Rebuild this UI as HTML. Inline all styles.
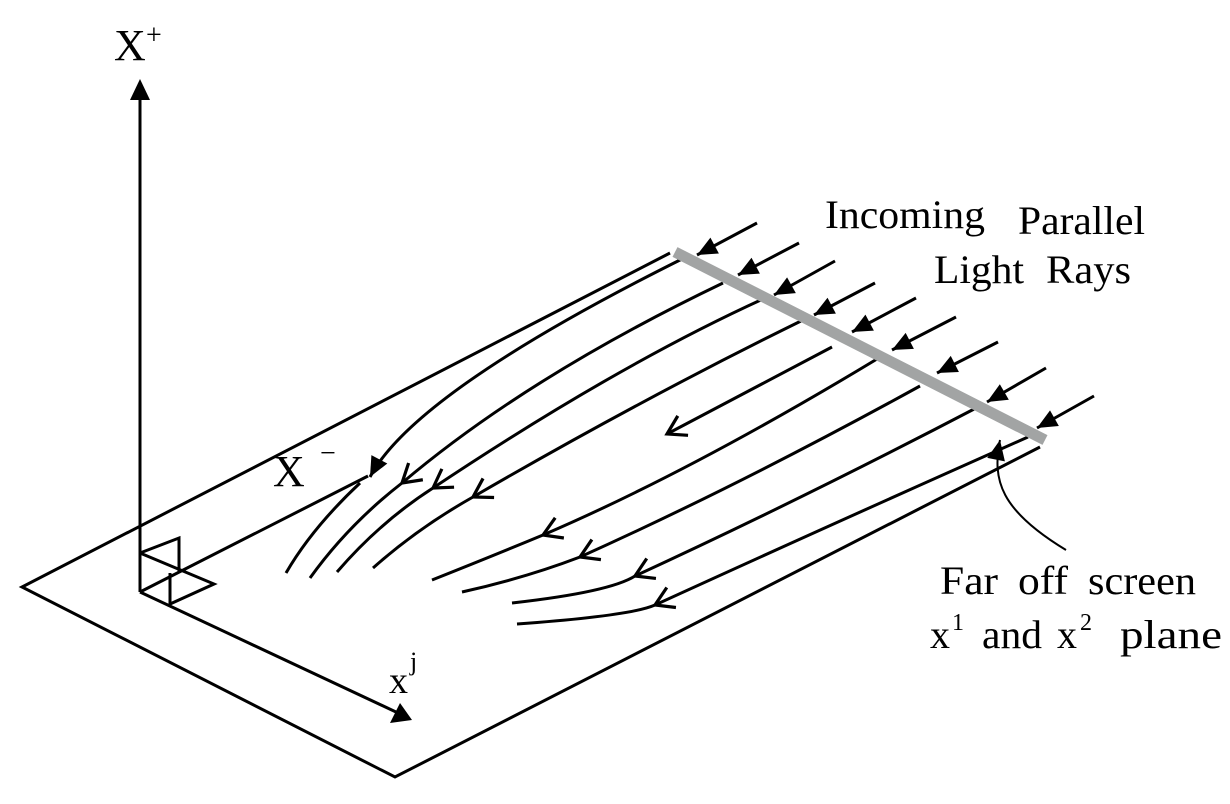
<!DOCTYPE html>
<html><head><meta charset="utf-8"><style>html,body{margin:0;padding:0;background:#fff}svg{display:block}</style></head>
<body>
<svg width="1230" height="804" viewBox="0 0 1230 804" xmlns="http://www.w3.org/2000/svg">
<defs>
<marker id="open" markerUnits="userSpaceOnUse" markerWidth="40" markerHeight="40" viewBox="-25 -20 30 40" refX="0" refY="0" orient="auto">
<path d="M-18,-11 L0,0 L-18,11" fill="none" stroke="#000" stroke-width="3.2"/>
</marker>
<marker id="fill" markerUnits="userSpaceOnUse" markerWidth="40" markerHeight="40" viewBox="-25 -20 30 40" refX="0" refY="0" orient="auto">
<path d="M-20,-9 L0,0 L-20,9 z" fill="#000"/>
</marker>
</defs>
<g fill="none" stroke="#000" stroke-width="3" stroke-linecap="butt">
<path d="M670,253 L22,587 L395,777 L1040,447"/>
<line x1="140" y1="592" x2="140" y2="98"/>
<line x1="140" y1="592" x2="396" y2="712"/>
<line x1="140" y1="592" x2="368" y2="476"/>
<path d="M140,553 L179,538 L179,573 M140,553 L214,584 L170,604 L170,573"/>
<path d="M684,258 Q415,392 370,477" marker-end="url(#fill)"/>
<path d="M723,283 Q527,377 402,483" marker-end="url(#open)"/>
<path d="M763,299 Q616,366 433,488" marker-end="url(#open)"/>
<path d="M803,320 Q640,400 473,497" marker-end="url(#open)"/>
<path d="M877,359 Q690,472 543,535" marker-end="url(#open)"/>
<path d="M920,386 Q740,485 580,557" marker-end="url(#open)"/>
<path d="M978,407 Q800,500 635,576" marker-end="url(#open)"/>
<path d="M1028,437 Q830,525 655,605" marker-end="url(#open)"/>
<path d="M360,483 Q312,528 286,573"/>
<path d="M402,483 Q348,525 310,578"/>
<path d="M433,488 Q380,522 337,572"/>
<path d="M473,497 Q418,528 373,568"/>
<path d="M543,535 Q490,557 432,580"/>
<path d="M580,557 Q525,578 462,592"/>
<path d="M635,576 Q610,592 512,603"/>
<path d="M655,605 Q630,616 517,624"/>
<path d="M832,347 L667,434" marker-end="url(#open)"/>
<path d="M1066,550 C1000,510 992,480 1000,440" stroke-width="2" marker-end="url(#fill)"/>
</g>
<line x1="675" y1="252" x2="1045" y2="440" stroke="#a2a4a4" stroke-width="11"/>
<g stroke="#000" stroke-width="3">
<line x1="757" y1="223" x2="697" y2="255" marker-end="url(#fill)"/>
<line x1="799" y1="243" x2="738" y2="275" marker-end="url(#fill)"/>
<line x1="835" y1="261" x2="774" y2="295" marker-end="url(#fill)"/>
<line x1="875" y1="283" x2="814" y2="315" marker-end="url(#fill)"/>
<line x1="916" y1="298" x2="852" y2="332" marker-end="url(#fill)"/>
<line x1="956" y1="317" x2="892" y2="350" marker-end="url(#fill)"/>
<line x1="998" y1="342" x2="937" y2="373" marker-end="url(#fill)"/>
<line x1="1046" y1="368" x2="987" y2="402" marker-end="url(#fill)"/>
<line x1="1094" y1="396" x2="1037" y2="428" marker-end="url(#fill)"/>
</g>
<polygon points="140,79 130,100 150,100" fill="#000"/>
<polygon points="412,720 390,723 400,703" fill="#000"/>
<g font-family="Liberation Serif, serif" fill="#000" font-size="40">
<text x="114" y="60" font-size="44">X</text>
<text x="146" y="44" font-size="28">+</text>
<text x="273" y="486" font-size="44">X</text>
<text x="320" y="462" font-size="28">−</text>
<text x="389" y="693" font-size="38">x</text>
<text x="410" y="670" font-size="26">j</text>
<text x="825" y="228" textLength="160" lengthAdjust="spacingAndGlyphs">Incoming</text>
<text x="1018" y="234" textLength="127" lengthAdjust="spacingAndGlyphs">Parallel</text>
<text x="934" y="283" textLength="90" lengthAdjust="spacingAndGlyphs">Light</text>
<text x="1046" y="283" textLength="85" lengthAdjust="spacingAndGlyphs">Rays</text>
<text x="940" y="594" textLength="58" lengthAdjust="spacingAndGlyphs">Far</text>
<text x="1018" y="594" textLength="50" lengthAdjust="spacingAndGlyphs">off</text>
<text x="1088" y="594" textLength="108" lengthAdjust="spacingAndGlyphs">screen</text>
<text x="930" y="648">x</text>
<text x="952" y="630" font-size="24">1</text>
<text x="982" y="648" textLength="60" lengthAdjust="spacingAndGlyphs">and</text>
<text x="1057" y="648">x</text>
<text x="1080" y="630" font-size="24">2</text>
<text x="1120" y="648" textLength="102" lengthAdjust="spacingAndGlyphs">plane</text>
</g>
</svg>
</body></html>
